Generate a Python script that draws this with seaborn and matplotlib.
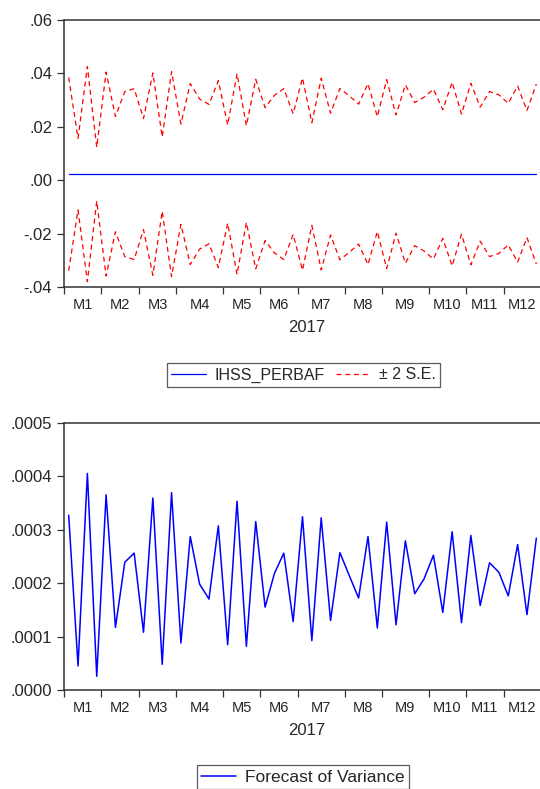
import matplotlib
matplotlib.use("Agg")
import matplotlib.pyplot as plt
import seaborn as sns
import numpy as np
import pandas as pd
from matplotlib.ticker import FuncFormatter, FixedLocator

# weekly observations, 2017
weeks_per_month = [4, 4, 4, 5, 4, 4, 5, 4, 5, 4, 4, 4]
month_labels = ["M1", "M2", "M3", "M4", "M5", "M6", "M7", "M8", "M9", "M10", "M11", "M12"]

forecast_level = 0.0023

upper_band = [0.0385, 0.0157, 0.0426, 0.0124, 0.0405, 0.0239, 0.0332, 0.0343, 0.0231, 0.0402,
              0.0162, 0.0407, 0.0211, 0.0362, 0.0304, 0.0284, 0.0373, 0.0207, 0.0399, 0.0204,
              0.0378, 0.0272, 0.0318, 0.0343, 0.0249, 0.0383, 0.0215, 0.0382, 0.0251, 0.0344,
              0.0316, 0.0285, 0.0362, 0.0238, 0.0377, 0.0244, 0.0357, 0.0291, 0.0311, 0.0341,
              0.0264, 0.0367, 0.0248, 0.0363, 0.0274, 0.0332, 0.0320, 0.0288, 0.0353, 0.0261,
              0.0360]
lower_band = [-0.0339, -0.0111, -0.0380, -0.0078, -0.0359, -0.0193, -0.0286, -0.0297, -0.0185, -0.0356,
              -0.0116, -0.0361, -0.0165, -0.0316, -0.0258, -0.0238, -0.0327, -0.0161, -0.0353, -0.0158,
              -0.0332, -0.0226, -0.0272, -0.0297, -0.0203, -0.0337, -0.0169, -0.0336, -0.0205, -0.0298,
              -0.0270, -0.0239, -0.0316, -0.0192, -0.0331, -0.0198, -0.0311, -0.0245, -0.0265, -0.0295,
              -0.0218, -0.0321, -0.0202, -0.0317, -0.0228, -0.0286, -0.0274, -0.0242, -0.0307, -0.0215,
              -0.0314]
variance = [0.000327, 0.0000449, 0.000405, 0.0000256, 0.000365, 0.000117, 0.000239, 0.000256, 0.000108, 0.000359,
            0.000048, 0.000369, 0.0000879, 0.000287, 0.000198, 0.000170, 0.000307, 0.0000848, 0.000353, 0.0000817,
            0.000315, 0.000155, 0.000218, 0.000256, 0.000128, 0.000324, 0.0000923, 0.000322, 0.000130, 0.000257,
            0.000214, 0.000172, 0.000287, 0.000116, 0.000314, 0.000122, 0.000279, 0.000180, 0.000208, 0.000252,
            0.000145, 0.000296, 0.000126, 0.000289, 0.000158, 0.000238, 0.000220, 0.000176, 0.000272, 0.000141,
            0.000284]

n = len(variance)
df = pd.DataFrame({
    "week": np.arange(n),
    "forecast": [forecast_level] * n,
    "upper": upper_band,
    "lower": lower_band,
    "variance": variance,
})

sns.set_style("white")
plt.rcParams["font.family"] = ["Liberation Sans", "DejaVu Sans"]

fig = plt.figure(figsize=(5.4, 7.89), dpi=100)
ax1 = fig.add_axes([64 / 540, 0.6362, 477 / 540, 0.3384])
ax2 = fig.add_axes([64 / 540, 0.1255, 477 / 540, 0.3388])

sns.lineplot(data=df, x="week", y="forecast", ax=ax1, color="#0000ff", lw=0.9, label="IHSS_PERBAF")
sns.lineplot(data=df, x="week", y="upper", ax=ax1, color="#ff0000", lw=0.9,
             linestyle=(0, (4, 3)), label="\u00b1 2 S.E.")
sns.lineplot(data=df, x="week", y="lower", ax=ax1, color="#ff0000", lw=0.9, linestyle=(0, (4, 3)))
sns.lineplot(data=df, x="week", y="variance", ax=ax2, color="#0000ff", lw=1.1, label="Forecast of Variance")

bounds = np.concatenate([[0], np.cumsum(weeks_per_month)]) - 0.5
centers = (bounds[:-1] + bounds[1:]) / 2


def short_fmt(fmt):
    def f(v, pos):
        s = fmt.format(0.0 if abs(v) < 1e-12 else v)
        return s.replace("0.", ".", 1)
    return f


for ax, lims, step, fmt in [(ax1, (-0.04, 0.06), 0.02, "{:.2f}"), (ax2, (0.0, 0.0005), 0.0001, "{:.4f}")]:
    ax.set_xlim(-0.5, n - 0.5)
    ax.set_ylim(*lims)
    ax.set_yticks(np.arange(lims[0], lims[1] + step / 2, step))
    ax.yaxis.set_major_formatter(FuncFormatter(short_fmt(fmt)))
    ax.xaxis.set_major_locator(FixedLocator(bounds[:-1]))
    ax.xaxis.set_minor_locator(FixedLocator(centers))
    ax.set_xticklabels([], minor=False)
    ax.set_xticklabels(month_labels, minor=True)
    ax.tick_params(axis="x", which="major", bottom=True, direction="out", length=5, width=0.9,
                   color="#333333")
    ax.tick_params(axis="x", which="minor", bottom=True, length=0, pad=8, labelsize=10.5)
    ax.tick_params(axis="y", left=True, direction="out", length=5, width=0.9, color="#333333",
                   labelsize=12, pad=3.5)
    ax.set_xlabel("")
    ax.set_ylabel("")
    for s in ax.spines.values():
        s.set_color("#333333")
        s.set_linewidth(1.1)
    ax.text(0.509, -0.153, "2017", transform=ax.transAxes, ha="center", va="center", fontsize=12)
    ax.get_legend().remove()

h, l = ax1.get_legend_handles_labels()
leg1 = fig.legend(h, l, loc="center", bbox_to_anchor=(303.5 / 540, 1 - 375 / 789), ncol=2,
                  fontsize=11.5, frameon=True, fancybox=False, edgecolor="#333333", handlelength=2.2,
                  borderpad=0.25, columnspacing=0.7, handletextpad=0.5)
leg1.get_frame().set_linewidth(0.9)
h, l = ax2.get_legend_handles_labels()
leg2 = fig.legend(h, l, loc="center", bbox_to_anchor=(303 / 540, 1 - 777 / 789), ncol=1,
                  fontsize=12.5, frameon=True, fancybox=False, edgecolor="#333333", handlelength=2.0,
                  borderpad=0.25, handletextpad=0.5)
leg2.get_frame().set_linewidth(0.9)

fig.savefig("out.png", dpi=100)
